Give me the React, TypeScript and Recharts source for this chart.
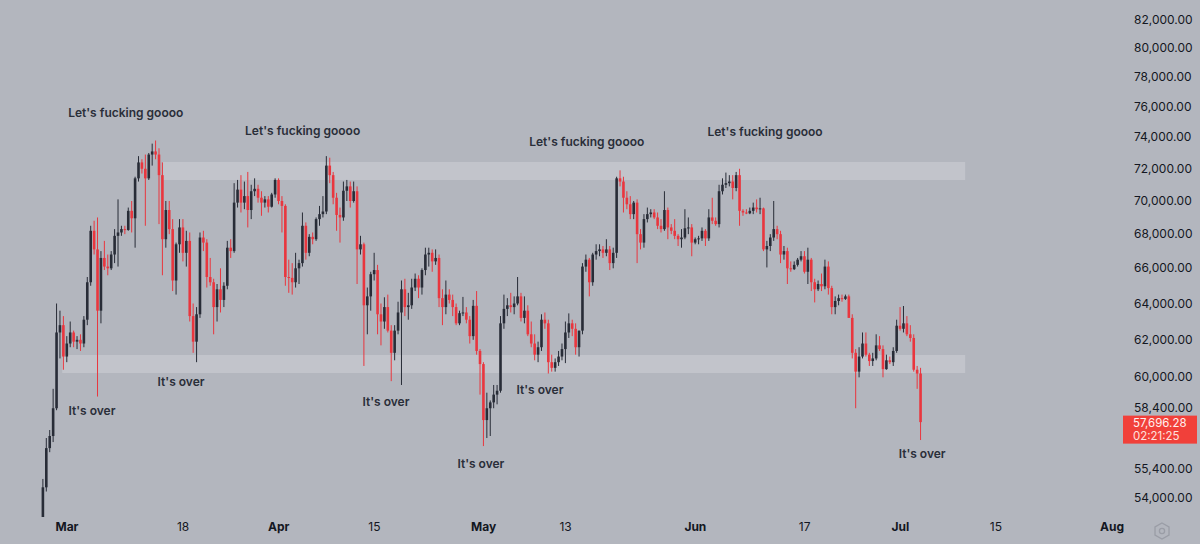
import React from 'react';
import { ComposedChart, Bar, XAxis, YAxis, ReferenceArea, ReferenceDot, ReferenceLine } from 'recharts';

// 12h BTC candles, prices in thousands of USD: [open, high, low, close]
// first candle = Feb 26 12:00, t measured in days from Mar 1 00:00
const START_T = -3.5;
const STEP_DAYS = 0.5;

const febCandles: number[][] = [
  [53.0, 54.9, 52.6, 54.5], [54.5, 56.9, 54.3, 56.4], [56.4, 57.3, 56.2, 57.0], [57.0, 59.4, 56.7, 58.4],
  [58.4, 64.0, 58.3, 62.4], [62.4, 63.6, 61.0, 62.8], [62.8, 63.3, 60.4, 61.1],
];
const marCandles: number[][] = [
  [61.1, 62.2, 60.8, 61.8], [61.8, 63.0, 61.6, 62.4], [62.4, 62.5, 61.6, 61.9], [61.9, 62.2, 61.5, 62.0],
  [62.0, 62.3, 61.4, 61.8], [61.8, 63.3, 61.6, 63.1], [63.1, 65.5, 62.8, 65.2], [65.2, 68.5, 65.0, 68.2],
  [68.2, 68.8, 66.8, 67.1], [67.1, 69.0, 59.0, 63.6], [63.6, 67.0, 62.9, 66.6], [66.6, 67.6, 65.9, 66.1],
  [66.1, 66.8, 65.6, 66.0], [66.0, 67.0, 65.9, 66.8], [66.8, 68.3, 66.3, 67.9], [67.9, 70.1, 66.1, 68.1],
  [68.1, 68.5, 67.9, 68.3], [68.3, 68.5, 68.0, 68.25], [68.25, 69.6, 68.2, 69.4], [69.4, 70.0, 68.1, 68.95],
  [68.95, 71.5, 67.2, 71.4], [71.4, 72.8, 71.2, 72.4], [72.4, 72.6, 71.7, 72.0], [72.0, 72.9, 68.5, 71.4],
  [71.4, 73.0, 71.3, 72.9], [72.9, 73.6, 72.2, 73.1], [73.1, 73.8, 72.6, 72.9], [72.9, 73.3, 68.6, 71.6],
  [71.6, 72.4, 65.6, 67.7], [67.7, 70.0, 67.2, 69.45], [69.45, 70.0, 68.0, 68.3], [68.3, 68.9, 64.7, 65.3],
  [65.3, 67.5, 64.5, 67.4], [67.4, 68.9, 66.9, 68.4], [68.4, 68.9, 66.4, 66.9], [66.9, 68.2, 66.1, 67.6],
  [67.6, 68.1, 63.0, 63.3], [63.3, 64.0, 61.3, 61.9], [61.9, 63.8, 60.8, 63.4], [63.4, 68.1, 63.2, 67.8],
  [67.8, 68.2, 67.0, 67.5], [67.5, 67.7, 64.9, 65.5], [65.5, 66.6, 65.0, 65.2], [65.2, 65.4, 62.3, 63.8],
  [63.8, 65.1, 63.0, 64.8], [64.8, 66.0, 63.5, 64.2], [64.2, 65.2, 63.8, 65.0], [65.0, 67.6, 64.8, 67.2],
  [67.2, 67.7, 66.6, 67.0], [67.0, 71.1, 66.9, 69.9], [69.9, 71.3, 69.6, 70.7], [70.7, 71.6, 69.3, 69.9],
  [69.9, 71.2, 69.5, 70.3], [70.3, 71.8, 68.4, 69.45], [69.45, 71.0, 68.9, 70.6], [70.6, 71.4, 70.3, 70.75],
  [70.75, 71.0, 69.9, 70.2], [70.2, 70.6, 69.1, 69.9], [69.9, 70.3, 69.6, 70.1], [70.1, 70.3, 69.3, 69.65],
  [69.65, 70.5, 69.6, 70.4], [70.4, 71.4, 70.2, 71.3],
];
const aprCandles: number[][] = [
  [71.3, 71.4, 69.8, 70.0], [70.0, 70.3, 68.1, 69.7], [69.7, 69.8, 65.0, 65.5], [65.5, 66.5, 64.6, 65.45],
  [65.45, 66.3, 64.5, 65.2], [65.2, 66.9, 64.9, 66.0], [66.0, 66.5, 65.1, 66.3], [66.3, 69.3, 66.1, 68.5],
  [68.5, 68.7, 66.5, 66.9], [66.9, 68.0, 66.7, 67.84], [67.84, 68.1, 67.4, 67.7], [67.7, 69.0, 67.6, 68.9],
  [68.9, 69.7, 68.5, 69.2], [69.2, 70.3, 69.0, 69.36], [69.36, 72.8, 69.2, 72.2], [72.2, 72.7, 71.1, 71.6],
  [71.6, 71.8, 69.8, 70.2], [70.2, 70.5, 68.2, 69.15], [69.15, 69.6, 67.5, 69.0], [69.0, 71.2, 68.8, 70.63],
  [70.63, 71.3, 70.0, 70.9], [70.9, 71.2, 69.6, 70.0], [70.0, 71.2, 69.9, 70.6], [70.6, 70.9, 65.1, 67.1],
  [67.1, 67.9, 66.8, 67.4], [67.4, 67.5, 60.6, 63.9], [63.9, 64.9, 62.3, 64.4], [64.4, 65.8, 63.6, 65.66],
  [65.66, 66.9, 65.3, 65.9], [65.9, 66.2, 62.3, 63.4], [63.4, 64.0, 61.7, 63.0], [63.0, 64.35, 62.6, 63.8],
  [63.8, 64.5, 62.4, 62.5], [62.5, 62.8, 59.8, 61.3], [61.3, 62.8, 60.9, 62.5], [62.5, 64.1, 62.3, 63.5],
  [63.5, 65.3, 59.6, 64.8], [64.8, 65.4, 63.3, 63.8], [63.8, 64.6, 63.1, 63.9], [63.9, 65.4, 63.7, 64.9],
  [64.9, 65.7, 64.7, 65.4], [65.4, 65.6, 64.3, 64.9], [64.9, 66.0, 64.5, 65.9], [65.9, 67.2, 65.6, 66.8],
  [66.8, 67.2, 66.1, 66.9], [66.9, 67.1, 65.8, 66.4], [66.4, 67.1, 66.2, 66.6], [66.6, 66.8, 63.8, 64.3],
  [64.3, 64.8, 62.8, 63.8], [63.8, 65.3, 63.4, 64.5], [64.5, 64.8, 64.0, 64.2], [64.2, 64.5, 63.3, 63.8],
  [63.8, 64.0, 62.8, 62.9], [62.9, 63.6, 62.8, 63.46], [63.46, 64.37, 63.3, 63.5], [63.5, 63.8, 62.9, 63.1],
  [63.1, 63.3, 61.8, 62.2], [62.2, 64.2, 62.0, 63.87], [63.87, 64.7, 61.2, 61.4], [61.4, 61.5, 59.1, 60.7],
];
const mayCandles: number[][] = [
  [60.7, 60.8, 56.5, 57.8], [57.8, 59.2, 56.9, 58.4], [58.4, 58.8, 57.0, 58.7], [58.7, 59.6, 58.4, 59.1],
  [59.1, 59.6, 58.6, 59.3], [59.3, 63.3, 59.2, 62.9], [62.9, 64.5, 62.6, 63.7], [63.7, 64.3, 63.3, 63.9],
  [63.9, 64.6, 63.5, 63.8], [63.8, 64.4, 63.4, 64.0], [64.0, 65.5, 63.9, 64.4], [64.4, 64.6, 63.0, 63.2],
  [63.2, 64.4, 62.9, 63.6], [63.6, 63.9, 62.2, 62.3], [62.3, 63.0, 61.6, 61.8], [61.8, 62.3, 60.9, 61.2],
  [61.2, 61.9, 60.8, 61.6], [61.6, 63.4, 61.4, 63.1], [63.1, 63.5, 62.6, 62.9], [62.9, 63.1, 60.2, 60.8],
  [60.8, 61.2, 60.3, 60.5], [60.5, 61.0, 60.3, 60.8], [60.8, 61.4, 60.6, 61.1], [61.1, 61.8, 60.9, 61.5],
  [61.5, 63.0, 60.75, 62.4], [62.4, 63.45, 62.1, 62.9], [62.9, 63.1, 62.2, 62.6], [62.6, 62.9, 61.2, 61.6],
  [61.6, 62.5, 61.1, 62.5], [62.5, 66.3, 62.3, 66.1], [66.1, 66.8, 65.8, 66.5], [66.5, 66.6, 64.4, 65.2],
  [65.2, 66.9, 65.0, 66.8], [66.8, 67.4, 66.5, 67.0], [67.0, 67.4, 66.7, 67.1], [67.1, 67.3, 66.6, 66.9],
  [66.9, 67.7, 66.7, 67.1], [67.1, 67.3, 65.9, 66.3], [66.3, 67.2, 66.0, 66.9], [66.9, 71.5, 66.6, 71.4],
  [71.4, 71.9, 70.9, 71.2], [71.2, 71.5, 69.3, 70.2], [70.2, 70.6, 69.5, 69.8], [69.8, 70.3, 68.9, 69.2],
  [69.2, 70.0, 68.9, 69.9], [69.9, 70.1, 66.3, 68.0], [68.0, 68.3, 67.1, 67.5], [67.5, 69.2, 67.2, 68.9],
  [68.9, 69.6, 68.7, 69.2], [69.2, 69.5, 69.0, 69.3], [69.3, 69.5, 68.9, 69.0], [69.0, 69.3, 68.3, 68.5],
  [68.5, 68.9, 68.1, 68.3], [68.3, 70.6, 68.2, 69.45], [69.45, 69.6, 67.7, 68.4], [68.4, 68.6, 68.0, 68.2],
  [68.2, 68.9, 67.7, 67.9], [67.9, 68.0, 67.3, 67.7], [67.7, 68.3, 67.2, 67.8], [67.8, 69.5, 67.7, 68.35],
  [68.35, 69.0, 68.0, 68.4], [68.4, 68.6, 66.7, 67.5],
];
const junCandles: number[][] = [
  [67.5, 67.8, 67.4, 67.7], [67.7, 67.9, 67.4, 67.75], [67.75, 68.4, 67.6, 68.2], [68.2, 68.3, 67.3, 67.75],
  [67.75, 69.5, 67.6, 69.0], [69.0, 70.2, 68.6, 68.8], [68.8, 69.0, 68.5, 68.6], [68.6, 71.0, 68.4, 70.6],
  [70.6, 71.4, 70.4, 71.0], [71.0, 71.76, 70.8, 71.1], [71.1, 71.6, 70.9, 71.2], [71.2, 71.6, 70.1, 70.8],
  [70.8, 71.8, 70.6, 71.6], [71.6, 72.0, 68.5, 69.4], [69.4, 69.5, 69.1, 69.3], [69.3, 69.5, 69.2, 69.25],
  [69.25, 69.6, 69.2, 69.4], [69.4, 69.9, 69.2, 69.6], [69.6, 70.1, 69.3, 69.5], [69.5, 70.2, 69.2, 69.55],
  [69.55, 69.6, 67.0, 67.1], [67.1, 67.6, 66.05, 67.3], [67.3, 68.0, 67.0, 67.8], [67.8, 70.0, 67.6, 68.3],
  [68.3, 68.5, 67.7, 68.0], [68.0, 68.2, 66.3, 66.8], [66.8, 67.3, 66.5, 67.0], [67.0, 67.2, 65.1, 66.0],
  [66.0, 66.4, 65.8, 65.95], [65.95, 66.4, 65.9, 66.2], [66.2, 66.6, 66.1, 66.5], [66.5, 67.0, 66.4, 66.7],
  [66.7, 67.0, 65.7, 65.8], [65.8, 67.2, 65.1, 66.5], [66.5, 66.6, 64.7, 65.2], [65.2, 65.4, 64.06, 64.8],
  [64.8, 65.3, 64.7, 65.1], [65.1, 65.7, 64.7, 64.97], [64.97, 66.5, 64.8, 66.1], [66.1, 66.4, 64.5, 64.87],
  [64.87, 65.0, 63.4, 63.8], [63.8, 64.4, 63.4, 64.14], [64.14, 64.5, 63.9, 64.3], [64.3, 64.5, 64.1, 64.26],
  [64.26, 64.5, 64.2, 64.4], [64.4, 64.5, 63.2, 63.2], [63.2, 63.4, 61.0, 61.3], [61.3, 61.5, 58.4, 60.3],
  [60.3, 61.6, 60.0, 61.1], [61.1, 62.4, 61.0, 61.8], [61.8, 62.4, 61.1, 61.2], [61.2, 61.3, 60.6, 60.86],
  [60.86, 61.3, 60.6, 61.0], [61.0, 62.3, 60.9, 61.7], [61.7, 62.2, 61.4, 61.5], [61.5, 61.7, 60.0, 60.43],
  [60.43, 61.2, 60.4, 60.9], [60.9, 61.1, 60.7, 60.8], [60.8, 61.6, 60.6, 61.4], [61.4, 63.1, 61.3, 62.77],
];
const julCandles: number[][] = [
  [62.77, 63.8, 62.5, 62.6], [62.6, 63.86, 62.4, 62.9], [62.9, 63.3, 62.2, 62.3], [62.3, 62.8, 61.9, 62.1],
  [62.1, 62.3, 60.3, 60.4], [60.4, 60.6, 59.4, 60.2], [60.2, 60.5, 56.8, 57.69628],
];

const LAST_PRICE_TEXT = '57,696.28';
const COUNTDOWN_TEXT = '02:21:25';

// axis
const Y_TICKS = [82, 80, 78, 76, 74, 72, 70, 68, 66, 64, 62, 60, 58.4, 55.4, 54];
const X_TICKS = [0, 17, 31, 45, 61, 73, 92, 108, 122, 136, 153];
const X_LABELS = ['Mar', '18', 'Apr', '15', 'May', '13', 'Jun', '17', 'Jul', '15', 'Aug'];
const X_BOLD = [true, false, true, false, true, false, true, false, true, false, true];

// horizontal zones (t range, price range)
const ZONES = [
  { t1: 14.0, t2: 131.5, p1: 71.29, p2: 72.43 },
  { t1: -0.7, t2: 131.5, p1: 60.23, p2: 61.18 },
];

const ANNOTATIONS = [
  { t: 8.6, p: 75.6, text: "Let's fucking goooo" },
  { t: 34.5, p: 74.4, text: "Let's fucking goooo" },
  { t: 76.1, p: 73.7, text: "Let's fucking goooo" },
  { t: 102.2, p: 74.35, text: "Let's fucking goooo" },
  { t: 3.65, p: 58.26, text: "It's over" },
  { t: 16.7, p: 59.76, text: "It's over" },
  { t: 46.7, p: 58.72, text: "It's over" },
  { t: 60.6, p: 55.63, text: "It's over" },
  { t: 69.25, p: 59.34, text: "It's over" },
  { t: 125.2, p: 56.11, text: "It's over" },
];

const ALL = [...febCandles, ...marCandles, ...aprCandles, ...mayCandles, ...junCandles, ...julCandles];
const data = ALL.map(([o, h, l, c], i) => ({ t: START_T + i * STEP_DAYS, o, h, l, c, range: [l, h] }));
const LAST_CLOSE = ALL[ALL.length - 1][3];

const BG = '#b3b6be';
const UP = '#282c37';
const DOWN = '#e9363e';
const FONT = "Inter, 'Noto Sans', sans-serif";
const BODY_W = 2.6;

const Candle = (props: any) => {
  const { x, width, y, height, payload } = props;
  if (!payload || x == null || y == null) return null;
  const { o, h, l, c } = payload;
  const cx = x + width / 2;
  const top = Math.min(y, y + height);
  const span = Math.abs(height);
  const lh = Math.log(h);
  const ll = Math.log(l);
  const py = (v: number) => (lh - ll > 0 ? top + (span * (lh - Math.log(v))) / (lh - ll) : top);
  const up = c >= o;
  const color = up ? UP : DOWN;
  const bt = py(Math.max(o, c));
  const bb = py(Math.min(o, c));
  return (
    <g>
      <line x1={cx} x2={cx} y1={top} y2={top + span} stroke={color} strokeWidth={1} />
      <rect x={cx - BODY_W / 2} y={bt} width={BODY_W} height={Math.max(bb - bt, 1)} fill={color} />
    </g>
  );
};

const YTick = (props: any) => {
  const { x, y, payload } = props;
  const v = Math.round(payload.value * 1000);
  const s = v.toLocaleString('en-US', { minimumFractionDigits: 2, maximumFractionDigits: 2 });
  return (
    <text x={x} y={y} dy={4} textAnchor="start" fontSize={12} fontFamily={FONT} fill="#131722">
      {s}
    </text>
  );
};

const XTick = (props: any) => {
  const { x, y, payload } = props;
  const idx = X_TICKS.indexOf(payload.value);
  return (
    <text
      x={x}
      y={y}
      dy={4}
      textAnchor="middle"
      fontSize={12}
      fontFamily={FONT}
      fontWeight={X_BOLD[idx] ? 700 : 400}
      fill="#131722"
    >
      {X_LABELS[idx]}
    </text>
  );
};

const PriceTag = (props: any) => {
  const vb = props.viewBox || {};
  const right = (vb.x || 0) + (vb.width || 0);
  const py = vb.y || 0;
  return (
    <g>
      <rect x={right + 3} y={py - 6.5} width={74} height={28} fill="#f1403a" />
      <text x={right + 13} y={py + 5.3} fontSize={11.5} fontFamily={FONT} fill="#fff1f0">
        {LAST_PRICE_TEXT}
      </text>
      <text x={right + 13} y={py + 18} fontSize={11.5} fontFamily={FONT} fill="#ffe0dd">
        {COUNTDOWN_TEXT}
      </text>
    </g>
  );
};

export default function App() {
  return (
    <div style={{ position: 'absolute', left: 0, top: 0, width: 1200, height: 544, background: BG, overflow: 'hidden' }}>
      <ComposedChart width={1200} height={544} data={data} margin={{ top: 0, right: 0, left: 0, bottom: 0 }}>
        <XAxis
          type="number"
          dataKey="t"
          domain={[-9.81, 154.17]}
          allowDataOverflow
          ticks={X_TICKS}
          interval={0}
          height={27}
          axisLine={false}
          tickLine={false}
          tickSize={0}
          tickMargin={10}
          tick={<XTick />}
        />
        <YAxis
          orientation="right"
          type="number"
          scale="log"
          domain={[53.104, 83.446]}
          allowDataOverflow
          ticks={Y_TICKS}
          interval={0}
          width={80}
          axisLine={false}
          tickLine={false}
          tickSize={0}
          tickMargin={14}
          tick={<YTick />}
        />
        {ZONES.map((z, i) => (
          <ReferenceArea
            key={'z' + i}
            x1={z.t1}
            x2={z.t2}
            y1={z.p1}
            y2={z.p2}
            fill="#ffffff"
            fillOpacity={0.2}
            stroke="none"
            ifOverflow="visible"
          />
        ))}
        <Bar dataKey="range" barSize={3} shape={<Candle />} isAnimationActive={false} />
        {ANNOTATIONS.map((a, i) => (
          <ReferenceDot
            key={'a' + i}
            x={a.t}
            y={a.p}
            r={0}
            ifOverflow="visible"
            shape={(p: any) => (
              <text
                x={p.cx}
                y={p.cy}
                dy={4}
                textAnchor="middle"
                fontSize={12}
                fontWeight={600}
                fontFamily={FONT}
                fill="#2a2e39"
              >
                {a.text}
              </text>
            )}
          />
        ))}
        <ReferenceLine y={LAST_CLOSE} stroke="none" ifOverflow="visible" label={(p: any) => <PriceTag {...p} />} />
      </ComposedChart>
      <svg style={{ position: 'absolute', left: 1152, top: 521 }} width={20} height={20} viewBox="0 0 20 20">
        <polygon points="10,2 17,6 17,14 10,18 3,14 3,6" fill="none" stroke="#9a9da6" strokeWidth={1.3} />
        <circle cx={10} cy={10} r={2.6} fill="none" stroke="#9a9da6" strokeWidth={1.3} />
      </svg>
    </div>
  );
}
